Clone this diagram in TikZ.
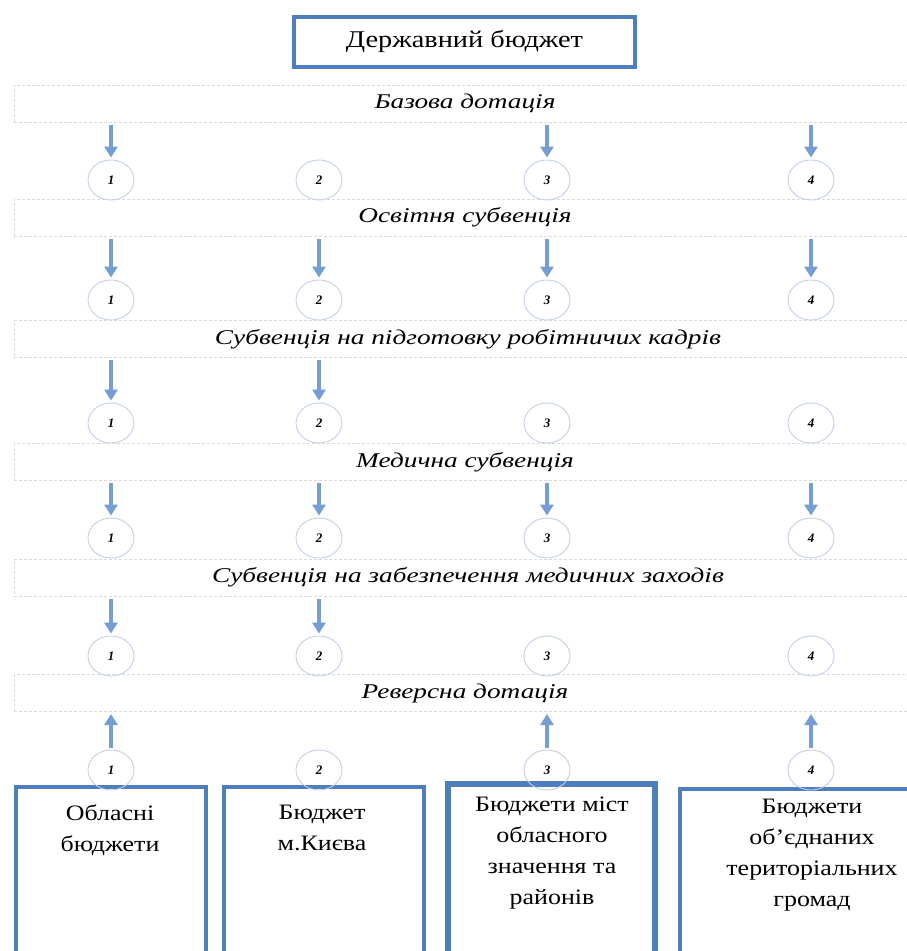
\documentclass[tikz,border=0pt]{standalone}
\usepackage{fontspec}
\setmainfont{Liberation Serif}
\newfontfamily\boxfont[FakeStretch=1.18]{Liberation Serif}
\newfontfamily\labfont[FakeStretch=1.3]{Liberation Serif}
\usetikzlibrary{arrows.meta,shapes.geometric}
\definecolor{boxblue}{RGB}{79,126,190}
\definecolor{arrblue}{RGB}{118,158,212}
\definecolor{circc}{RGB}{196,208,234}
\definecolor{bandc}{RGB}{218,218,218}
\begin{document}
\begin{tikzpicture}[x=1pt,y=-1pt,
  bigbox/.style={draw=boxblue,line width=4pt,inner sep=0pt},
  bandbox/.style={draw=bandc,line width=1pt,dash pattern=on 3pt off 2pt,minimum width=902pt,minimum height=37pt,inner sep=0pt,font=\labfont\itshape\fontsize{21}{24}\selectfont},
  circnode/.style={ellipse,draw=circc,line width=0.9pt,minimum width=46pt,minimum height=40pt,inner sep=0pt,font=\fontsize{13}{13}\selectfont\bfseries\itshape},
  boxtext/.style={align=center,inner sep=0pt,anchor=north,font=\boxfont\fontsize{22}{31}\selectfont},
  arr/.style={draw=arrblue,line width=3.5pt,-{Triangle[width=13pt,length=11pt]},shorten >=2pt,shorten <=2pt}
]
\clip (0,0) rectangle (907,951);
\fill[white] (0,0) rectangle (907,951);

% top box
\node[bigbox,minimum width=341pt,minimum height=50pt,font=\boxfont\fontsize{24}{28}\selectfont] (top) at (464.5,41.5) {Державний бюджет};

% bands
\node[bandbox] (b1) at (465,103.5) {Базова дотація};
\node[bandbox] (b2) at (465,217.5) {Освітня субвенція};
\node[bandbox,minimum width=908pt] (b3) at (468,339) {Субвенція на підготовку робітничих кадрів};
\node[bandbox] (b4) at (465,462) {Медична субвенція};
\node[bandbox,minimum width=908pt] (b5) at (468,577.5) {Субвенція на забезпечення медичних заходів};
\node[bandbox] (b6) at (465,693) {Реверсна дотація};

% bottom boxes
\node[bigbox,minimum width=190pt,minimum height=180pt] (B1) at (111,877) {};
\node[bigbox,minimum width=200pt,minimum height=180pt] (B2) at (324,877) {};
\node[bigbox,line width=6pt,minimum width=207pt,minimum height=180pt] (B3) at (551.5,874) {};
\node[bigbox,minimum width=240pt,minimum height=180pt] (B4) at (800,879) {};

\node[boxtext] (t1) at (110,805) {Обласні\\бюджети};
\node[boxtext] (t2) at (322,805) {Бюджет\\м.Києва};
\node[boxtext] (t3) at (552,797) {Бюджети міст\\обласного\\значення та\\районів};
\node[boxtext] (t4) at (812,799) {Бюджети\\об’єднаних\\територіальних\\громад};

% circles
\foreach \r/\y in {1/180,2/300,3/423,4/538,5/656,6/770}{
  \node[circnode] (c\r1) at (111,\y) {1};
  \node[circnode] (c\r2) at (319,\y) {2};
  \node[circnode] (c\r3) at (547,\y) {3};
  \node[circnode] (c\r4) at (811,\y) {4};
}

% arrows down
\foreach \r/\cols in {1/{1,3,4},2/{1,2,3,4},3/{1,2},4/{1,2,3,4},5/{1,2}}{
  \foreach \c in \cols{
    \draw[arr] (b\r.south -| c\r\c) -- (c\r\c.north);
  }
}
% arrows up (reverse)
\foreach \c in {1,3,4}{
  \draw[arr] (c6\c.north) -- (b6.south -| c6\c);
}
\end{tikzpicture}
\end{document}
